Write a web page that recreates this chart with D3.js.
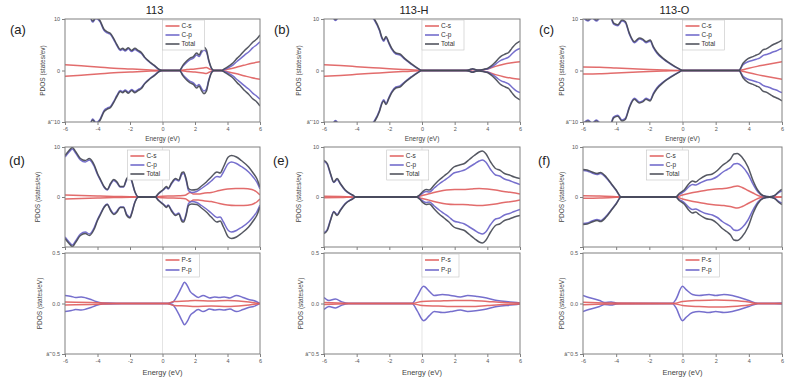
<!DOCTYPE html>
<html>
  <head>
    <title>PDOS panels 113 / 113-H / 113-O</title>
    <script src="https://cdn.jsdelivr.net/npm/d3@7"></script>
    <style>
      body { margin: 0; background: #fff; }
      text { font-family: "Liberation Sans", Arial, sans-serif; }
    </style>
  </head>
  <body>
    <svg id="svg" width="800" height="388" xmlns="http://www.w3.org/2000/svg"></svg>
    <script>
      // ---- data: [energy (eV), PDOS] for the spin-up side ----
      // spin-down side is drawn as the mirror image (negative values)
      const energyTicks = [-6, -4, -2, 0, 2, 4, 6];
      const titles = ["113", "113-H", "113-O"];
      const panelLabels = ["(a)", "(b)", "(c)", "(d)", "(e)", "(f)"];

      // (a) 113
      const aTotal = [[-6,11],[-5,12],[-4.5,11],[-4.3,9.6],[-4.1,10.3],[-3.85,9.7],[-3.6,8],[-3.4,7.5],[-3.2,7.2],[-3,6.2],[-2.8,5],[-2.6,4.1],[-2.45,4.3],[-2.3,4],[-2.1,4.4],[-1.9,3.9],[-1.7,4.3],[-1.5,3.9],[-1.3,3.5],[-1.1,2.6],[-0.8,1.7],[-0.5,1],[-0.2,0.2],[0,0],[1.05,0],[1.25,1],[1.5,1.9],[1.7,2.4],[1.9,2.7],[2.1,3.4],[2.25,3],[2.4,3.9],[2.55,4.5],[2.7,4],[2.85,2],[3.05,0.3],[3.2,0],[3.6,0],[3.8,0.3],[4.1,0.9],[4.35,1.5],[4.6,2.4],[4.8,3],[5.05,3.9],[5.3,4.6],[5.55,5.5],[5.8,6.1],[6,6.9]];
      const aCp = [[-6,10.8],[-5,11.8],[-4.5,10.8],[-4.3,9.4],[-4.1,10.1],[-3.85,9.5],[-3.6,7.8],[-3.4,7.3],[-3.2,7],[-3,6],[-2.8,4.8],[-2.6,3.9],[-2.45,4.1],[-2.3,3.8],[-2.1,4.2],[-1.9,3.7],[-1.7,4.1],[-1.5,3.7],[-1.3,3.3],[-1.1,2.5],[-0.8,1.6],[-0.5,0.9],[-0.2,0.15],[0,0],[1.05,0],[1.25,0.8],[1.5,1.6],[1.7,2.1],[1.9,2.4],[2.1,3.0],[2.25,2.7],[2.4,3.5],[2.55,4.0],[2.7,3.6],[2.85,1.8],[3.05,0.2],[3.2,0],[3.6,0],[3.8,0.2],[4.1,0.6],[4.35,1.1],[4.6,1.8],[4.8,2.3],[5.05,3.0],[5.3,3.6],[5.55,4.4],[5.8,5.0],[6,5.6]];
      const aCs = [[-6,1.1],[-5,0.9],[-4,0.7],[-3,0.45],[-2,0.3],[-1,0.15],[0,0.03],[1,0.02],[1.5,0.2],[2,0.3],[2.5,0.5],[2.7,0.6],[2.9,0.3],[3.2,0],[3.6,0],[4,0.25],[4.5,0.6],[5,1.0],[5.5,1.4],[6,1.7]];

      // (b) 113-H
      const bTotal = [[-6,11],[-5.5,10.6],[-5.3,9.9],[-5.1,10.6],[-4,14],[-3.2,11],[-2.9,9.9],[-2.6,7.9],[-2.45,6.4],[-2.35,5.9],[-2.2,6.6],[-2.05,5.6],[-1.85,4.3],[-1.6,3.4],[-1.35,3.2],[-1.05,2.3],[-0.65,1.3],[-0.25,0.4],[0,0],[2.7,0],[2.9,0.15],[3.1,0.35],[3.3,0.15],[3.5,0.1],[3.8,0.25],[4,0.4],[4.2,0.8],[4.45,1.5],[4.65,2.2],[4.85,2.8],[5.1,3.2],[5.3,3.5],[5.5,4.3],[5.75,5.2],[6,5.7]];
      const bCp = [[-6,10.8],[-5.5,10.4],[-5.3,9.7],[-5.1,10.4],[-4,13.8],[-3.2,10.8],[-2.9,9.7],[-2.6,7.7],[-2.45,6.2],[-2.35,5.7],[-2.2,6.4],[-2.05,5.4],[-1.85,4.1],[-1.6,3.2],[-1.35,3.0],[-1.05,2.2],[-0.65,1.2],[-0.25,0.35],[0,0],[2.7,0],[2.9,0.1],[3.1,0.3],[3.3,0.1],[3.5,0.05],[3.8,0.2],[4,0.3],[4.2,0.6],[4.45,1.1],[4.65,1.6],[4.85,2.0],[5.1,2.3],[5.3,2.6],[5.5,3.2],[5.75,3.9],[6,4.3]];
      const bCs = [[-6,1.1],[-5,0.95],[-4,0.75],[-3,0.55],[-2,0.35],[-1,0.18],[0,0.03],[2.8,0.02],[3.1,0.2],[3.4,0.05],[4,0.3],[4.5,0.8],[5,1.2],[5.5,1.5],[6,1.7]];

      // (c) 113-O
      const cTotal = [[-6,10.5],[-5.7,9.8],[-5.45,10.4],[-5.2,9.8],[-4.95,10.5],[-4.4,11],[-4.15,9.2],[-3.9,8.9],[-3.65,9.8],[-3.45,9.5],[-3.2,7.2],[-2.9,5.6],[-2.6,6.3],[-2.4,6.1],[-2.2,5.6],[-1.95,5.9],[-1.75,4.6],[-1.55,3.6],[-1.15,2.3],[-0.75,1.4],[-0.25,0.4],[0,0],[3.4,0],[3.65,1.4],[3.95,2.3],[4.25,2.7],[4.45,3.0],[4.65,3.3],[4.85,4.0],[5.05,4.2],[5.25,4.6],[5.45,5.0],[5.65,5.3],[5.85,5.6],[6,5.9]];
      const cCp = [[-6,10.3],[-5.7,9.6],[-5.45,10.2],[-5.2,9.6],[-4.95,10.3],[-4.4,10.8],[-4.15,9.0],[-3.9,8.7],[-3.65,9.6],[-3.45,9.3],[-3.2,7.0],[-2.9,5.4],[-2.6,6.1],[-2.4,5.9],[-2.2,5.4],[-1.95,5.7],[-1.75,4.4],[-1.55,3.4],[-1.15,2.2],[-0.75,1.3],[-0.25,0.35],[0,0],[3.4,0],[3.65,1.1],[3.95,1.7],[4.25,2.0],[4.45,2.2],[4.65,2.4],[4.85,2.9],[5.05,3.1],[5.25,3.3],[5.45,3.6],[5.65,3.8],[5.85,4.1],[6,4.3]];
      const cCs = [[-6,0.7],[-5,0.65],[-4,0.5],[-3,0.35],[-2,0.2],[-1,0.1],[0,0.02],[3.4,0],[3.7,0.2],[4,0.45],[4.5,0.8],[5,1.1],[5.5,1.4],[6,1.7]];

      // (d) 113, C and P
      const dTotal = [[-6,8.3],[-5.75,9.3],[-5.55,9.9],[-5.35,9.1],[-5.05,7.7],[-4.75,7.3],[-4.5,7.7],[-4.2,6.4],[-4,4.7],[-3.8,3.4],[-3.6,2.1],[-3.4,1.5],[-3.2,2.7],[-3,3.5],[-2.8,3],[-2.6,2.1],[-2.4,2.1],[-2.2,3.7],[-2,4.2],[-1.9,3.4],[-1.7,1.1],[-1.5,0.05],[-0.45,0],[-0.25,0.7],[0.05,1.5],[0.25,2.1],[0.35,1.7],[0.55,2.8],[0.8,3.7],[1,3.4],[1.2,4.9],[1.3,5],[1.45,3.7],[1.6,1.7],[1.8,1.4],[2.1,1.5],[2.4,2.2],[2.7,3],[3,4],[3.35,5],[3.55,4.8],[3.75,6],[4.05,8],[4.25,8.3],[4.55,8],[4.85,7.3],[5.3,6],[5.6,4.7],[5.8,3.7],[6,2]];
      const dCp = [[-6,8.0],[-5.75,9.0],[-5.55,9.6],[-5.35,8.8],[-5.05,7.4],[-4.75,7.0],[-4.5,7.4],[-4.2,6.1],[-4,4.5],[-3.8,3.2],[-3.6,2.0],[-3.4,1.4],[-3.2,2.5],[-3,3.3],[-2.8,2.8],[-2.6,2.0],[-2.4,2.0],[-2.2,3.5],[-2,4.0],[-1.9,3.2],[-1.7,1.0],[-1.5,0.05],[-0.45,0],[-0.25,0.6],[0.05,1.4],[0.25,1.9],[0.35,1.6],[0.55,2.6],[0.8,3.5],[1,3.2],[1.2,4.6],[1.3,4.7],[1.45,3.4],[1.6,1.3],[1.8,0.9],[2.1,1.1],[2.4,1.7],[2.7,2.4],[3,3.2],[3.35,4.1],[3.55,4.0],[3.75,5.0],[4.05,6.7],[4.25,7.0],[4.55,6.7],[4.85,6.1],[5.3,5.0],[5.6,3.9],[5.8,3.0],[6,1.6]];
      const dCs = [[-6,0.4],[-5,0.3],[-4,0.2],[-3,0.1],[-2,0.05],[-1.5,0],[-0.45,0],[0,0.15],[0.5,0.2],[1,0.25],[1.4,0.35],[1.7,0.9],[1.9,0.6],[2.2,0.6],[2.6,0.8],[3,0.9],[3.5,1.3],[4,1.6],[4.5,1.7],[5,1.7],[5.5,1.5],[5.8,1.0],[6,0.4]];
      const dPp = [[-6,0.08],[-5.6,0.07],[-5.35,0.06],[-5,0.065],[-4.7,0.055],[-4.4,0.04],[-4.1,0.02],[-3.7,0.006],[-3.3,0.004],[-2.5,0.002],[0.3,0.002],[0.6,0.01],[0.85,0.06],[1.05,0.12],[1.2,0.17],[1.35,0.21],[1.55,0.17],[1.7,0.12],[1.9,0.09],[2.2,0.06],[2.5,0.08],[2.9,0.055],[3.2,0.065],[3.5,0.06],[3.8,0.065],[4.15,0.055],[4.55,0.08],[4.95,0.06],[5.3,0.04],[5.6,0.03],[6,0]];
      const dPs = [[-6,0.015],[-4,0.008],[-3,0.002],[0.3,0.002],[0.7,0.02],[1.5,0.025],[2,0.03],[3,0.025],[4,0.03],[5,0.02],[6,0]];

      // (e) 113-H, C and P
      const eTotal = [[-6,7.3],[-5.8,6.7],[-5.6,4.7],[-5.4,3.0],[-5.2,3.7],[-5,2.7],[-4.7,1.4],[-4.25,0.4],[-4.05,0],[-0.35,0],[-0.15,0.4],[0.05,1.1],[0.25,1.5],[0.45,1.4],[0.75,2.4],[1.05,3.4],[1.35,4.2],[1.65,5],[1.95,6],[2.3,6.4],[2.6,6.7],[2.9,7.5],[3.2,8.3],[3.5,9],[3.7,9.2],[3.9,8.7],[4.2,7],[4.5,5.7],[4.75,5.4],[5.05,4.7],[5.35,4.4],[5.65,4],[6,3.7]];
      const eCp = [[-6,7.1],[-5.8,6.5],[-5.6,4.5],[-5.4,2.9],[-5.2,3.5],[-5,2.6],[-4.7,1.3],[-4.25,0.35],[-4.05,0],[-0.35,0],[-0.15,0.3],[0.05,0.8],[0.25,1.1],[0.45,1.0],[0.75,1.8],[1.05,2.6],[1.35,3.3],[1.65,4.0],[1.95,4.8],[2.3,5.1],[2.6,5.4],[2.9,6.0],[3.2,6.6],[3.5,7.2],[3.7,7.4],[3.9,7.0],[4.2,5.5],[4.5,4.4],[4.75,4.2],[5.05,3.6],[5.35,3.3],[5.65,2.9],[6,2.5]];
      const eCs = [[-6,0.15],[-5,0.1],[-4,0],[-0.3,0],[0,0.3],[0.5,0.7],[1,1.1],[1.5,1.4],[2,1.5],[2.5,1.5],[3,1.6],[3.5,1.7],[4,1.6],[4.5,1.4],[5,1.1],[5.5,0.9],[6,0.6]];
      const ePp = [[-6,0.06],[-5.7,0.03],[-5.3,0.045],[-4.9,0.016],[-4.5,0.002],[-0.6,0.002],[-0.3,0.07],[0.1,0.17],[0.45,0.12],[0.75,0.08],[1.25,0.09],[1.75,0.08],[2.35,0.065],[2.8,0.08],[3.4,0.07],[3.8,0.06],[4.6,0.03],[5.4,0.016],[6,0.006]];
      const ePs = [[-6,0.01],[-4.5,0.002],[-0.6,0.002],[0,0.02],[1,0.025],[2,0.03],[3,0.03],[4,0.02],[5,0.01],[6,0.004]];

      // (f) 113-O, C and P
      const fTotal = [[-6,5.5],[-5.75,5.4],[-5.45,5],[-5.15,4.7],[-4.95,4.9],[-4.6,4],[-4.3,2.7],[-4,1.4],[-3.7,0],[-0.4,0],[-0.2,0.7],[0.1,1.4],[0.4,2.7],[0.6,3.2],[0.8,3],[1,3.5],[1.4,4.3],[1.8,4.6],[2.1,5.3],[2.4,6.3],[2.7,7],[2.9,7.6],[3.1,8.6],[3.3,8.7],[3.6,7.9],[3.95,6],[4.25,3.3],[4.55,1.3],[4.85,0.3],[5.25,0.05],[5.55,0.3],[5.85,1.2],[6,1.5]];
      const fCp = [[-6,5.3],[-5.75,5.2],[-5.45,4.8],[-5.15,4.5],[-4.95,4.7],[-4.6,3.8],[-4.3,2.6],[-4,1.3],[-3.7,0],[-0.4,0],[-0.2,0.5],[0.1,1.1],[0.4,2.1],[0.6,2.5],[0.8,2.4],[1,2.7],[1.4,3.3],[1.8,3.6],[2.1,4.1],[2.4,4.9],[2.7,5.5],[2.9,5.9],[3.1,6.6],[3.3,6.7],[3.6,6.1],[3.95,4.6],[4.25,2.6],[4.55,1.0],[4.85,0.25],[5.25,0.05],[5.55,0.25],[5.85,1.0],[6,1.2]];
      const fCs = [[-6,0.25],[-5,0.2],[-4,0.05],[-3.7,0],[-0.4,0],[0,0.4],[0.5,0.8],[1,1.1],[1.5,1.4],[2,1.6],[2.5,1.7],[3,2.0],[3.3,2.2],[3.6,1.9],[3.95,1.3],[4.25,0.8],[4.55,0.3],[4.85,0.05],[6,0]];
      const fPp = [[-6,0.08],[-5.65,0.06],[-5.0,0.03],[-4.7,0.01],[-4.3,0.015],[-4,0.005],[-3.8,0.002],[-0.6,0.002],[-0.4,0.04],[0,0.17],[0.2,0.14],[0.6,0.09],[1,0.08],[1.6,0.09],[2,0.08],[2.5,0.09],[3,0.08],[3.45,0.06],[4,0.03],[4.55,0.002],[6,0.004]];
      const fPs = [[-6,0.012],[-4.5,0.004],[-0.5,0.002],[0,0.02],[1,0.03],[2,0.035],[3,0.03],[4,0.015],[4.55,0],[6,0]];

      // ---- layout ----
      const svg = d3.select("svg");
      const cols = [{x0: 65, x1: 260}, {x0: 324, x1: 520}, {x0: 583, x1: 782}];
      const rows = {
        top: {y0: 19, y1: 122},
        mid: {y0: 147, y1: 247},
        low: {y0: 253, y1: 354}
      };
      // hand-placed text positions per column
      const labelX = [10, 274, 539];
      const yTitleX = [{top: 43, mid: 38, low: 40}, {top: 299, mid: 299, low: 301}, {top: 562, mid: 562, low: 562}];

      const colors = {cs: "#e0605f", cp: "#6a63c9", total: "#474a55", ps: "#e0605f", pp: "#6a63c9"};
      const frameColor = "#808080";
      const tickColor = "#555";
      const minus = (f) => (d) => f(d).replace("\u2212", "-");

      const cPanels = [
        {col: 0, row: "top", total: aTotal, cp: aCp, cs: aCs},
        {col: 1, row: "top", total: bTotal, cp: bCp, cs: bCs},
        {col: 2, row: "top", total: cTotal, cp: cCp, cs: cCs},
        {col: 0, row: "mid", total: dTotal, cp: dCp, cs: dCs},
        {col: 1, row: "mid", total: eTotal, cp: eCp, cs: eCs},
        {col: 2, row: "mid", total: fTotal, cp: fCp, cs: fCs}
      ];
      const pPanels = [
        {col: 0, ps: dPs, pp: dPp},
        {col: 1, ps: ePs, pp: ePp},
        {col: 2, ps: fPs, pp: fPp}
      ];

      let clipId = 0;

      // draws the frame, axes and mirrored curves of one subplot
      function drawPanel(col, row, yDomain, yTicks, yFmt, showXLabels, series, legend, legendLeft) {
        const c = cols[col], r = rows[row];
        const x = d3.scaleLinear().domain([-6, 6]).range([c.x0, c.x1]);
        const y = d3.scaleLinear().domain(yDomain).range([r.y1, r.y0]);
        const g = svg.append("g");

        const id = "clip" + (clipId++);
        svg.append("clipPath").attr("id", id)
          .append("rect")
          .attr("x", c.x0).attr("y", r.y0)
          .attr("width", c.x1 - c.x0).attr("height", r.y1 - r.y0);

        // Fermi level guide
        g.append("line")
          .attr("x1", x(0)).attr("x2", x(0))
          .attr("y1", r.y0).attr("y2", r.y1)
          .attr("stroke", "#d8d8d8").attr("stroke-width", 0.7);

        // curves (spin up and mirrored spin down)
        const line = d3.line()
          .x((d) => x(d[0]))
          .y((d) => y(d[1]))
          .curve(d3.curveMonotoneX);
        const cg = g.append("g").attr("clip-path", "url(#" + id + ")");
        series.forEach((s) => {
          [1, -1].forEach((sign) => {
            cg.append("path")
              .attr("d", line(s.data.map((d) => [d[0], sign * d[1]])))
              .attr("fill", "none")
              .attr("stroke", s.color)
              .attr("stroke-width", 1.5)
              .attr("stroke-opacity", 0.92)
              .attr("stroke-linejoin", "round");
          });
        });

        // frame
        g.append("rect")
          .attr("x", c.x0).attr("y", r.y0)
          .attr("width", c.x1 - c.x0).attr("height", r.y1 - r.y0)
          .attr("fill", "none").attr("stroke", frameColor).attr("stroke-width", 1);

        // axes
        const xAxis = g.append("g")
          .attr("transform", "translate(0," + r.y1 + ")")
          .call(d3.axisBottom(x).tickValues(energyTicks).tickSize(3).tickPadding(2)
            .tickFormat(showXLabels ? (d) => String(d) : () => ""));
        const yAxis = g.append("g")
          .attr("transform", "translate(" + c.x0 + ",0)")
          .call(d3.axisLeft(y).tickValues(yTicks).tickSize(3).tickPadding(2).tickFormat(yFmt));
        [xAxis, yAxis].forEach((a) => {
          a.select(".domain").remove();
          a.selectAll("line").attr("stroke", frameColor);
          a.selectAll("text").attr("fill", tickColor).style("font-size", "5.5px")
            .style("font-family", "'Liberation Sans', Arial, sans-serif");
        });

        // legend
        const lx = legendLeft(c), ly = r.y0 + (row === "mid" ? 3 : 1);
        const lw = legend.length === 3 ? 42 : 37;
        const rowH = legend.length === 3 ? 9 : 10;
        const lg = g.append("g").attr("transform", "translate(" + lx + "," + ly + ")");
        lg.append("rect")
          .attr("width", lw).attr("height", legend.length * rowH + 3)
          .attr("fill", "#fff").attr("stroke", "#c4c4c4").attr("stroke-width", 0.6);
        legend.forEach((l, i) => {
          const yy = 6 + i * rowH;
          lg.append("line")
            .attr("x1", 3).attr("x2", 17).attr("y1", yy).attr("y2", yy)
            .attr("stroke", l.color).attr("stroke-width", 1.5);
          lg.append("text")
            .attr("x", 19).attr("y", yy + 2.2)
            .attr("font-size", 6.5).attr("fill", "#333")
            .text(l.name);
        });

        // y title
        const ymid = (r.y0 + r.y1) / 2;
        const unit = row === "low" ? "PDOS (states/eV)" : "PDOS (states/ev)";
        g.append("text")
          .attr("transform", "translate(" + (yTitleX[col][row] + 2) + "," + ymid + ") rotate(-90)")
          .attr("text-anchor", "middle")
          .attr("font-size", 6.5).attr("fill", "#444")
          .text(unit);

        return x;
      }

      // C panels: Total drawn last so it sits on top of C-p where they overlap
      cPanels.forEach((p) => {
        const isTop = p.row === "top";
        drawPanel(p.col, p.row, [-10, 10], [-10, 0, 10],
          isTop ? minus(d3.format("d")) : (d) => (d === -10 ? "" : String(d)),
          isTop,
          [
            {data: p.cs, color: colors.cs},
            {data: p.cp, color: colors.cp},
            {data: p.total, color: colors.total}
          ],
          [
            {name: "C-s", color: colors.cs},
            {name: "C-p", color: colors.cp},
            {name: "Total", color: colors.total}
          ],
          isTop ? (c) => (c.x0 + c.x1) / 2 : (c) => c.x0 + 0.32 * (c.x1 - c.x0)
        );
      });

      // P panels
      pPanels.forEach((p) => {
        drawPanel(p.col, "low", [-0.5, 0.5], [-0.5, 0, 0.5], minus(d3.format(".1f")), true,
          [
            {data: p.pp, color: colors.pp},
            {data: p.ps, color: colors.ps}
          ],
          [
            {name: "P-s", color: colors.ps},
            {name: "P-p", color: colors.pp}
          ],
          (c) => (c.x0 + c.x1) / 2
        );
      });

      // column titles, panel letters and energy labels
      cols.forEach((c, i) => {
        const cx = (c.x0 + c.x1) / 2;
        svg.append("text")
          .attr("x", cx - 8).attr("y", 14)
          .attr("text-anchor", "middle")
          .attr("font-size", 11).attr("fill", "#222")
          .text(titles[i]);
        svg.append("text")
          .attr("x", cx).attr("y", 141)
          .attr("text-anchor", "middle")
          .attr("font-size", 6.5).attr("fill", "#444")
          .text("Energy (eV)");
        svg.append("text")
          .attr("x", cx).attr("y", 375)
          .attr("text-anchor", "middle")
          .attr("font-size", 7.5).attr("fill", "#444")
          .text("Energy (eV)");
        svg.append("text")
          .attr("x", labelX[i]).attr("y", 34)
          .attr("font-size", 13).attr("fill", "#222")
          .text(panelLabels[i]);
        svg.append("text")
          .attr("x", labelX[i] - 1).attr("y", 165)
          .attr("font-size", 13).attr("fill", "#222")
          .text(panelLabels[i + 3]);
      });
    </script>
  </body>
</html>
